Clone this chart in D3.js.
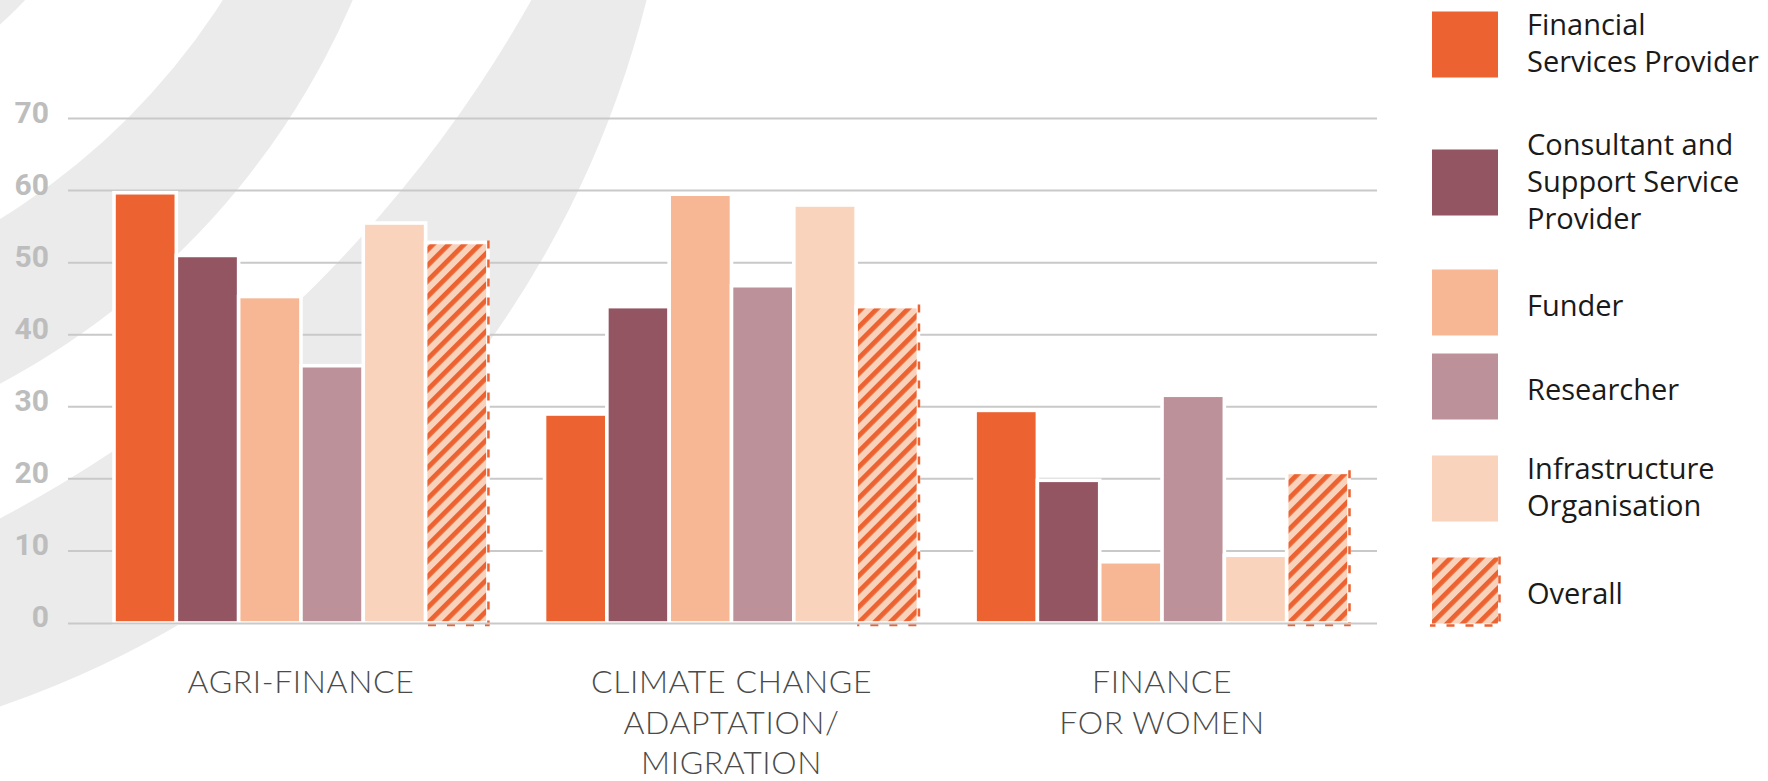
<!DOCTYPE html>
<html>
<head>
<meta charset="utf-8">
<script src="https://cdn.jsdelivr.net/npm/d3@7"></script>
<style>
  body { margin: 0; background: #fff; }
</style>
</head>
<body>
<script>
// categories (x groups) and how their labels wrap
var groups = ["AGRI-FINANCE", "CLIMATE CHANGE ADAPTATION/MIGRATION", "FINANCE FOR WOMEN"];
var groupLines = [["AGRI-FINANCE"], ["CLIMATE CHANGE", "ADAPTATION/", "MIGRATION"], ["FINANCE", "FOR WOMEN"]];

// series (legend order)
var series = ["Financial Services Provider", "Consultant and Support Service Provider", "Funder",
  "Researcher", "Infrastructure Organisation", "Overall"];
var seriesLines = [["Financial", "Services Provider"], ["Consultant and", "Support Service", "Provider"],
  ["Funder"], ["Researcher"], ["Infrastructure", "Organisation"], ["Overall"]];
var colors = ["#ec6230", "#945563", "#f7b795", "#bc9199", "#f9d3bc", "url(#hatch)"];

// values per series, one per group
var fsp = [59.7, 29.0, 29.5];
var consultant = [51.0, 43.9, 19.8];
var funder = [45.3, 59.5, 8.5];
var researcher = [35.7, 46.8, 31.6];
var infrastructure = [55.5, 58.0, 9.4];
var overall = [52.8, 43.9, 20.9];
var seriesValues = [fsp, consultant, funder, researcher, infrastructure, overall];

var yTicks = [0, 10, 20, 30, 40, 50, 60, 70];

var width = 1768, height = 781;

var svg = d3.select("body").append("svg")
  .attr("width", width)
  .attr("height", height)
  .style("display", "block");

var defs = svg.append("defs");
var hatch = defs.append("pattern")
  .attr("id", "hatch")
  .attr("patternUnits", "userSpaceOnUse")
  .attr("width", 11)
  .attr("height", 11)
  .attr("patternTransform", "rotate(45)");
hatch.append("rect").attr("width", 11).attr("height", 11).attr("fill", "#f9d2bb");
hatch.append("rect").attr("width", 4.8).attr("height", 11).attr("fill", "#ec6230");

// grey background swooshes (parts of big circles off the top-left corner)
function ring(outer, inner) {
  var p = d3.path();
  p.moveTo(outer[0] + outer[2], outer[1]);
  p.arc(outer[0], outer[1], outer[2], 0, 2 * Math.PI);
  if (inner) {
    p.moveTo(inner[0] + inner[2], inner[1]);
    p.arc(inner[0], inner[1], inner[2], 0, 2 * Math.PI);
  }
  return p.toString();
}
var bg = svg.append("g").attr("fill", "#ebebeb").attr("fill-rule", "evenodd");
bg.append("path").attr("d", ring([-367, -377, 544]));
bg.append("path").attr("d", ring([-369.5, -310, 786], [-367, -377, 700]));
bg.append("path").attr("d", ring([-326, -241, 1002], [-616, -644.5, 1316]));

// scales
var x0 = d3.scaleBand().domain(groups).range([114, 1349]).paddingInner(0.1315);
var x1 = d3.scaleBand().domain(series).range([0, x0.bandwidth()]);
var y = d3.scaleLinear().domain([0, 70]).range([623, 118.5]);

// gridlines + y labels
var grid = svg.append("g");
grid.selectAll("line").data(yTicks.filter(function (d) { return d > 0; })).enter()
  .append("line")
  .attr("x1", 68).attr("x2", 1377)
  .attr("y1", function (d) { return y(d); })
  .attr("y2", function (d) { return y(d); })
  .attr("stroke", "#c9c9c9")
  .attr("stroke-width", 2);

svg.append("g").selectAll("text").data(yTicks).enter()
  .append("text")
  .attr("x", 49)
  .attr("y", function (d) { return y(d) + 4; })
  .attr("text-anchor", "end")
  .style("font-family", "Roboto, sans-serif")
  .style("font-weight", 700)
  .style("font-size", "30px")
  .style("fill", "#bdbdbd")
  .text(function (d) { return d; });

// bars
var gEnter = svg.append("g").selectAll("g").data(groups).enter()
  .append("g")
  .attr("transform", function (d) { return "translate(" + x0(d) + ",0)"; });

gEnter.selectAll("rect")
  .data(function (d, gi) {
    return series.map(function (s, si) {
      return { key: s, index: si, value: seriesValues[si][gi] };
    });
  })
  .enter()
  .append("rect")
  .attr("x", function (d) { return x1(d.key); })
  .attr("width", x1.bandwidth())
  .attr("y", function (d) { return y(d.value); })
  .attr("height", function (d) { return y(0) - y(d.value); })
  .attr("fill", function (d) { return colors[d.index]; })
  .attr("stroke", "#fff")
  .attr("stroke-width", 3.6);

// dashed edge on the overall bar (right + bottom)
gEnter.append("path")
  .attr("d", function (d, gi) {
    var xr = x1("Overall") + x1.bandwidth() + 0.5;
    var xl = x1("Overall") + 1;
    return "M" + xr + "," + (y(overall[gi]) - 2) + "V" + (y(0) + 2) + "H" + xl;
  })
  .attr("fill", "none")
  .attr("stroke", "#ec6230")
  .attr("stroke-width", 2.5)
  .attr("stroke-dasharray", "8,11");

// baseline
svg.append("line")
  .attr("x1", 68).attr("x2", 1377)
  .attr("y1", y(0) + 0.5).attr("y2", y(0) + 0.5)
  .attr("stroke", "#c9c9c9")
  .attr("stroke-width", 2);

// category labels
svg.append("g").selectAll("text").data(groups).enter()
  .append("text")
  .attr("x", function (d) { return x0(d) + x0.bandwidth() / 2; })
  .attr("y", 693)
  .attr("text-anchor", "middle")
  .style("font-family", "Lato, sans-serif")
  .style("font-weight", 300)
  .style("font-size", "32px")
  .style("letter-spacing", "0.6px")
  .style("fill", "#4a4a4a")
  .each(function (d, i) {
    var t = d3.select(this);
    groupLines[i].forEach(function (line, li) {
      t.append("tspan")
        .attr("x", x0(d) + x0.bandwidth() / 2)
        .attr("dy", li === 0 ? 0 : 40.5)
        .text(line);
    });
  });

// legend
var centers = [];
var c = 44.5;
seriesLines.forEach(function (lines, i) {
  if (i > 0) c += 48 + 18 * (seriesLines[i - 1].length + lines.length);
  centers.push(c);
});

var legend = svg.append("g").selectAll("g").data(series).enter()
  .append("g")
  .attr("transform", function (d, i) { return "translate(1432," + (centers[i] - 33) + ")"; });

legend.append("rect")
  .attr("width", 66)
  .attr("height", 66)
  .attr("fill", function (d, i) { return colors[i]; });

legend.filter(function (d) { return d === "Overall"; })
  .append("path")
  .attr("d", "M67.5,-1V68H-2")
  .attr("fill", "none")
  .attr("stroke", "#ec6230")
  .attr("stroke-width", 2.5)
  .attr("stroke-dasharray", "8,11");

legend.append("text")
  .style("font-family", "'Open Sans', sans-serif")
  .style("font-size", "29px")
  .style("fill", "#1a1a1a")
  .each(function (d, i) {
    var t = d3.select(this);
    var lines = seriesLines[i];
    var first = 33 + 13 - (lines.length - 1) * 18.5 - (lines.length > 1 ? 4 : 0);
    lines.forEach(function (line, li) {
      t.append("tspan")
        .attr("x", 95)
        .attr("y", first + li * 37)
        .text(line);
    });
  });
</script>
</body>
</html>
